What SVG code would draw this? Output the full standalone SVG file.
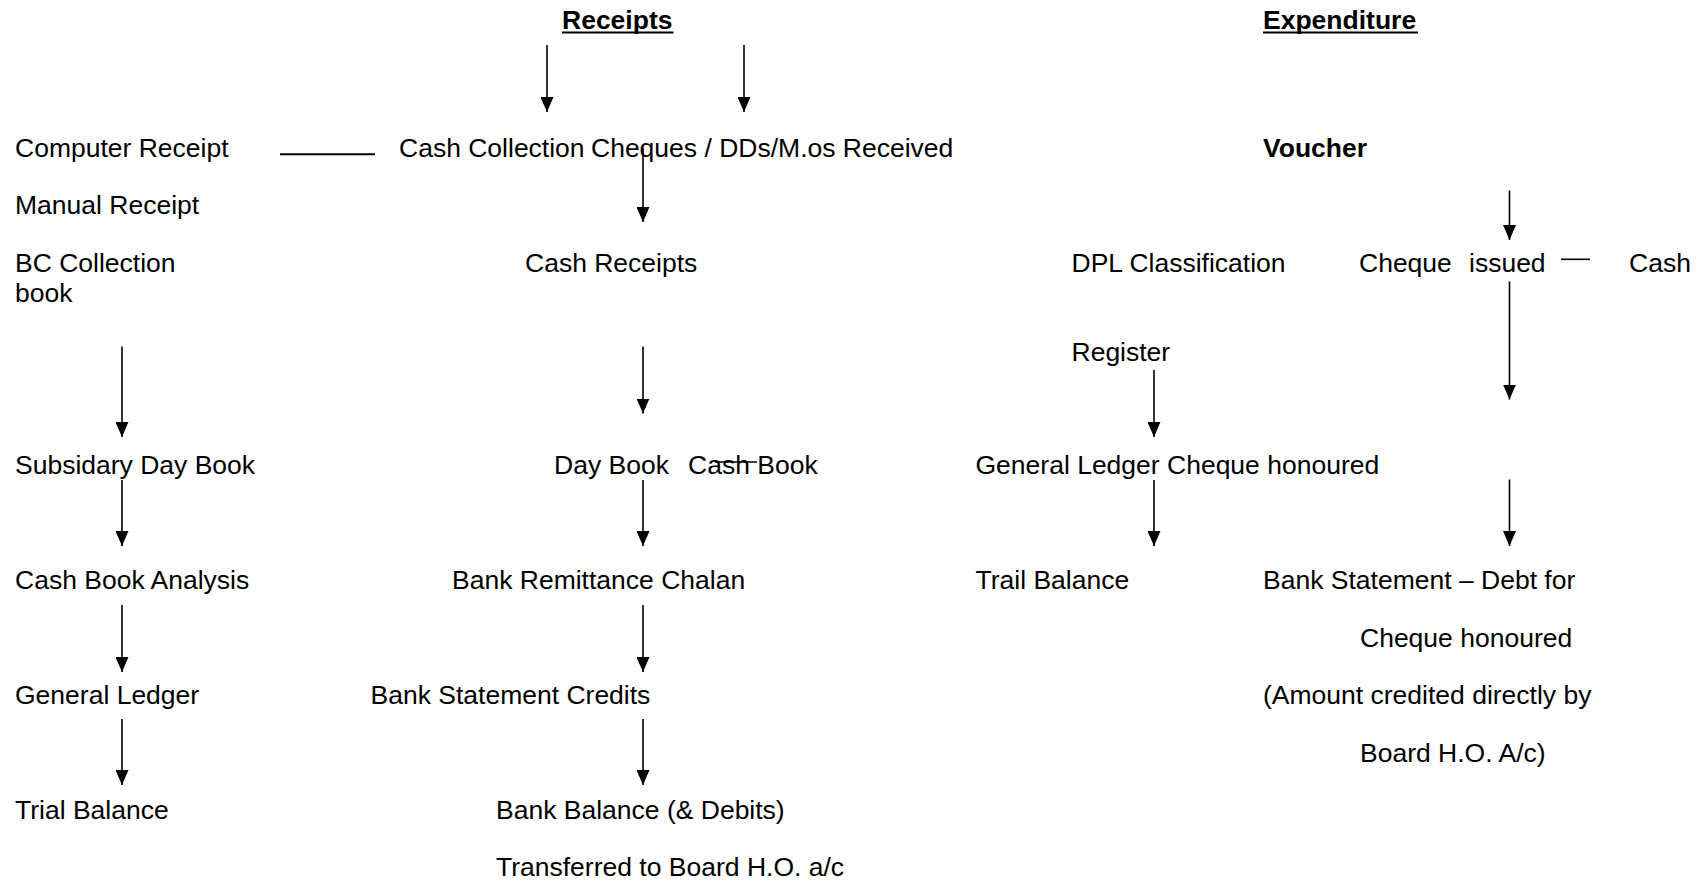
<svg xmlns="http://www.w3.org/2000/svg" width="1705" height="883" viewBox="0 0 1705 883">
<style>
text{font-family:"Liberation Sans",Arial,sans-serif;font-size:26.5px;fill:#000}
.b{font-weight:bold}
.c{stroke:#000;stroke-width:1.6;fill:none}
.a{marker-end:url(#ah)}
.t{stroke:#000;stroke-width:2;fill:none}
</style>
<defs>
<marker id="ah" markerUnits="userSpaceOnUse" viewBox="0 0 15 13" markerWidth="15" markerHeight="13" refX="15" refY="6.5" orient="auto">
<path d="M0,0 L15,6.5 L0,13 z" fill="#000"/>
</marker>
</defs>
<rect width="1705" height="883" fill="#fff"/>
<g id="headings">
<text class="b" x="562" y="28.5">Receipts</text>
<line class="t" x1="562" y1="32.5" x2="673.5" y2="32.5"/>
<text class="b" x="1263" y="28.5">Expenditure</text>
<line class="t" x1="1263" y1="32.5" x2="1418" y2="32.5"/>
</g>
<g id="n-computer-receipt"><text x="15" y="157">Computer Receipt</text></g>
<g id="n-manual-receipt"><text x="15" y="214">Manual Receipt</text></g>
<g id="n-bc-collection"><text x="15" y="271.5">BC Collection</text><text x="15" y="301.5">book</text></g>
<g id="n-cash-collection"><text x="399" y="157">Cash Collection</text></g>
<g id="n-cheques"><text x="591" y="157">Cheques / DDs/M.os Received</text></g>
<g id="n-cash-receipts"><text x="525" y="271.5">Cash Receipts</text></g>
<g id="n-subsidary"><text x="15" y="474">Subsidary Day Book</text></g>
<g id="n-day-book"><text x="554" y="474">Day Book</text><text x="688" y="474">Cash Book</text></g>
<g id="n-cash-book-analysis"><text x="15" y="589">Cash Book Analysis</text></g>
<g id="n-bank-remittance"><text x="452" y="589">Bank Remittance Chalan</text></g>
<g id="n-general-ledger"><text x="15" y="703.5">General Ledger</text></g>
<g id="n-bank-statement-credits"><text x="370.5" y="703.5">Bank Statement Credits</text></g>
<g id="n-trial-balance"><text x="15" y="818.5">Trial Balance</text></g>
<g id="n-bank-balance"><text x="496" y="818.5">Bank Balance (&amp; Debits)</text><text x="496" y="876">Transferred to Board H.O. a/c</text></g>
<g id="n-voucher"><text class="b" x="1263" y="157">Voucher</text></g>
<g id="n-dpl"><text x="1071.5" y="271.5">DPL Classification</text><text x="1071.5" y="360.5">Register</text></g>
<g id="n-cheque-issued"><text x="1359" y="271.5">Cheque</text><text x="1469" y="271.5">issued</text></g>
<g id="n-cash"><text x="1629" y="271.5">Cash</text></g>
<g id="n-gl-cheque-honoured"><text x="975.5" y="474">General Ledger Cheque honoured</text></g>
<g id="n-trail-balance"><text x="975.5" y="589">Trail Balance</text></g>
<g id="n-bank-statement-debt"><text x="1263" y="589">Bank Statement – Debt for</text><text x="1360" y="646.5">Cheque honoured</text><text x="1263" y="704">(Amount credited directly by</text><text x="1360" y="761.5">Board H.O. A/c)</text></g>
<g id="connectors">
<line class="c a" x1="547" y1="45" x2="547" y2="112"/>
<line class="c a" x1="744" y1="45" x2="744" y2="112"/>
<line class="c a" x1="643" y1="148" x2="643" y2="222"/>
<line class="c a" x1="1509.5" y1="190.5" x2="1509.5" y2="240"/>
<line class="c a" x1="122" y1="346.5" x2="122" y2="437"/>
<line class="c a" x1="643" y1="346.5" x2="643" y2="413.5"/>
<line class="c a" x1="1154" y1="370" x2="1154" y2="437"/>
<line class="c a" x1="1509.5" y1="281.5" x2="1509.5" y2="399.5"/>
<line class="c a" x1="122" y1="480" x2="122" y2="546"/>
<line class="c a" x1="643" y1="480" x2="643" y2="546"/>
<line class="c a" x1="1154" y1="480" x2="1154" y2="546"/>
<line class="c a" x1="1509.5" y1="479.5" x2="1509.5" y2="546"/>
<line class="c a" x1="122" y1="605" x2="122" y2="672"/>
<line class="c a" x1="643" y1="605" x2="643" y2="672"/>
<line class="c a" x1="122" y1="719" x2="122" y2="785"/>
<line class="c a" x1="643" y1="719" x2="643" y2="785"/>
<line class="t" x1="280" y1="154.3" x2="375" y2="154.3"/>
<line class="c" x1="1561" y1="259.3" x2="1590" y2="259.3"/>
<line class="c" x1="715" y1="462" x2="757" y2="462"/>
</g>
</svg>
